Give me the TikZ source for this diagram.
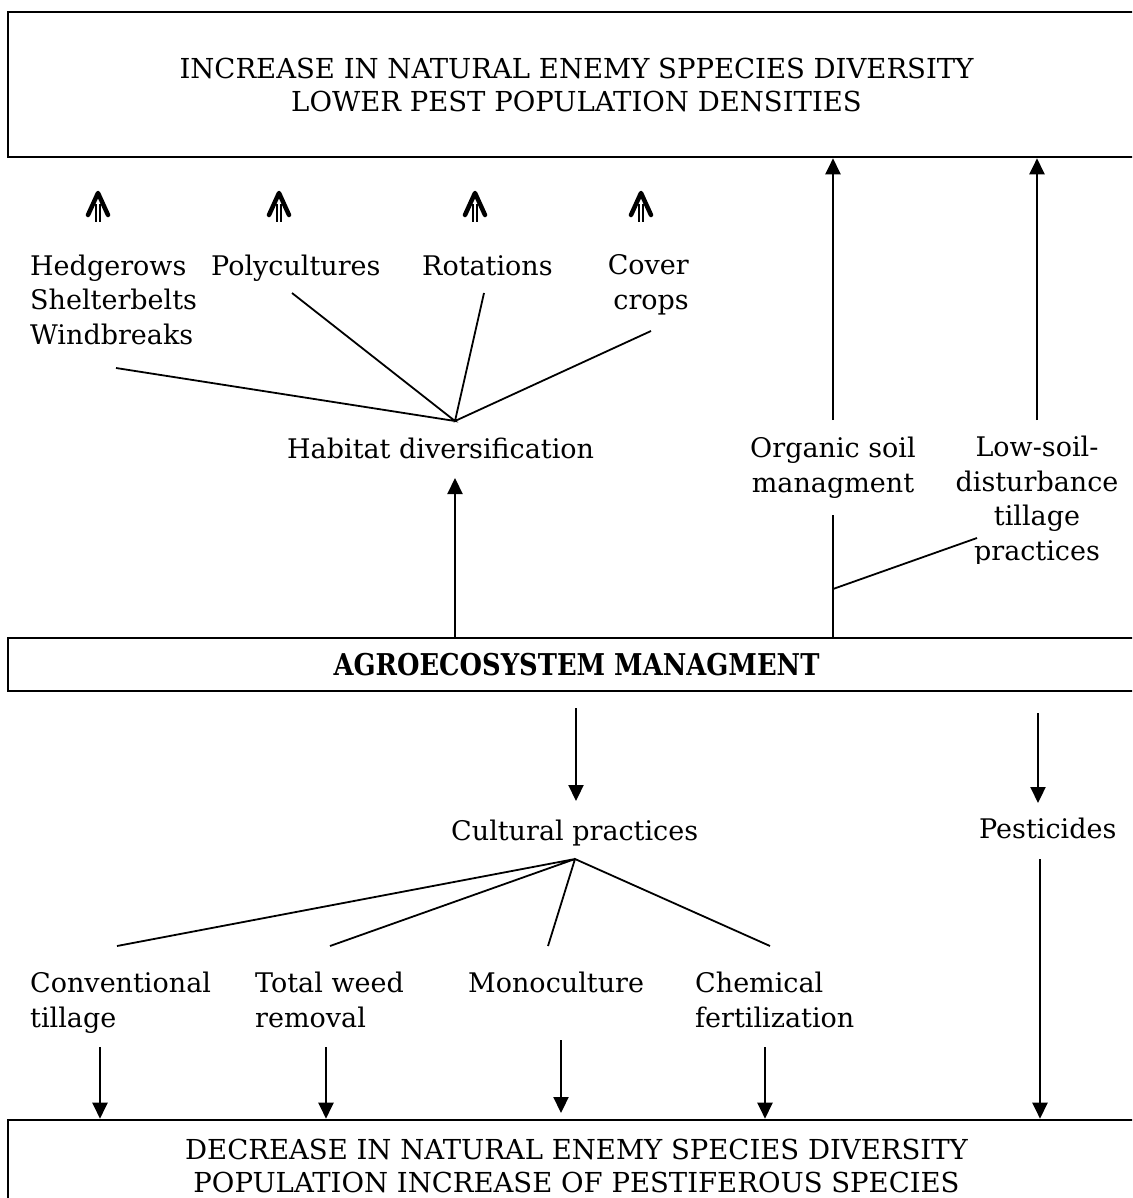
\documentclass[tikz,border=0pt]{standalone}
\usepackage{fontspec}
\setmainfont{DejaVu Serif}
\usetikzlibrary{arrows.meta}
\begin{document}
\begin{tikzpicture}[x=1pt,y=-1pt,
  lbl/.style={inner sep=0pt, font=\fontsize{27}{34.5}\selectfont},
  bigbox/.style={draw, line width=2.6pt, inner sep=0pt, align=center, font=\fontsize{27.5}{33}\selectfont},
  conn/.style={line width=1.8pt},
  arr/.style={line width=2.2pt, -{Triangle[width=15pt,length=16pt]}},
  chev/.style={line width=4.5pt, line cap=round, line join=round},
  stemline/.style={line width=1.3pt},
  uparrow/.pic={\draw[chev] (-10,22) -- (0,0) -- (10,22);
                \draw[stemline] (-2,11) -- (-2,29) (2,11) -- (2,29);}]
\useasboundingbox (0,0) rectangle (1132,1198);
\clip (0,0) rectangle (1132,1198);

% boxes
\node[bigbox, minimum width=1137pt, minimum height=145pt] (top) at (576.5,84.5)
  {INCREASE IN NATURAL ENEMY SPPECIES DIVERSITY\\LOWER PEST POPULATION DENSITIES};
\node[bigbox, minimum width=1137pt, minimum height=53pt, font=\fontsize{30}{33}\selectfont\bfseries] (mid) at (576.5,664.5)
  {\scalebox{0.86}[1]{AGROECOSYSTEM MANAGMENT}};
\node[bigbox, minimum width=1137pt, minimum height=92pt] (bot) at (576.5,1166)
  {DECREASE IN NATURAL ENEMY SPECIES DIVERSITY\\POPULATION INCREASE OF PESTIFEROUS SPECIES};

% upper labels (base = baseline of last line)
\node[lbl, anchor=base west, align=left] (hedge) at (30,344) {Hedgerows\\Shelterbelts\\Windbreaks};
\node[lbl, anchor=base west] (poly) at (211,275) {Polycultures};
\node[lbl, anchor=base west] (rot) at (422,275) {Rotations};
\node[lbl, anchor=base east, align=right] (cover) at (689,309) {Cover\\crops};
\node[lbl, anchor=base west] (habitat) at (287,458) {Habitat diversification};
\node[lbl, anchor=base, align=center] (organic) at (833,492) {Organic soil\\managment};
\begin{scope}
  \clip (880,400) rectangle (1132,563);
  \node[lbl, anchor=base, align=center] (lowsoil) at (1037,560) {Low-soil-\\disturbance\\tillage\\practices};
\end{scope}

% small arrows
\pic at (98,193) {uparrow};
\pic at (279,193) {uparrow};
\pic at (475,193) {uparrow};
\pic at (641,193) {uparrow};

% habitat fan
\coordinate (hp) at (455,421);
\coordinate (e1) at (116,368);
\coordinate (e2) at (292,293);
\coordinate (e3) at (484,293);
\coordinate (e4) at (651,331);
\draw[conn] (e1) -- (hp) -- (e2) (e3) -- (hp) -- (e4);

% arrows from management up
\draw[arr] (mid.north -| hp) -- (455,478);
\coordinate (org1) at (833,420);
\coordinate (low1) at (1037,420);
\draw[arr] (org1) -- (top.south -| org1);
\draw[arr] (low1) -- (top.south -| low1);
\coordinate (orgb) at (833,515);
\coordinate (orgj) at (833,589);
\coordinate (lowb) at (977,538);
\draw[conn] (mid.north -| orgb) -- (orgb);
\draw[conn] (orgj) -- (lowb);

% lower labels
\node[lbl, anchor=base west] (cultural) at (451,840) {Cultural practices};
\node[lbl, anchor=base west] (pest) at (979,838) {Pesticides};
\node[lbl, anchor=base west, align=left] (conv) at (30,1027) {Conventional\\tillage};
\node[lbl, anchor=base west, align=left] (weed) at (255,1027) {Total weed\\removal};
\node[lbl, anchor=base west] (mono) at (468,992) {Monoculture};
\node[lbl, anchor=base west, align=left] (chem) at (695,1027) {Chemical\\fertilization};

% arrows down from management
\coordinate (c0) at (576,708);
\coordinate (c1) at (576,801);
\draw[arr] (c0) -- (c1);
\coordinate (p0) at (1038,713);
\coordinate (p1) at (1038,803);
\draw[arr] (p0) -- (p1);

% cultural fan
\coordinate (cp) at (575,859);
\coordinate (f1) at (117,946);
\coordinate (f2) at (330,946);
\coordinate (f3) at (548,946);
\coordinate (f4) at (770,946);
\draw[conn] (f1) -- (cp) -- (f2) (f3) -- (cp) -- (f4);

% arrows into bottom box
\coordinate (pp) at (1040,859);
\draw[arr] (pp) -- (bot.north -| pp);
\coordinate (a1) at (100,1047);
\coordinate (a2) at (326,1047);
\coordinate (a3) at (561,1040);
\coordinate (a4) at (765,1047);
\draw[arr] (a1) -- (bot.north -| a1);
\draw[arr] (a2) -- (bot.north -| a2);
\draw[arr] (a3) -- (561,1113);
\draw[arr] (a4) -- (bot.north -| a4);
\end{tikzpicture}
\end{document}
